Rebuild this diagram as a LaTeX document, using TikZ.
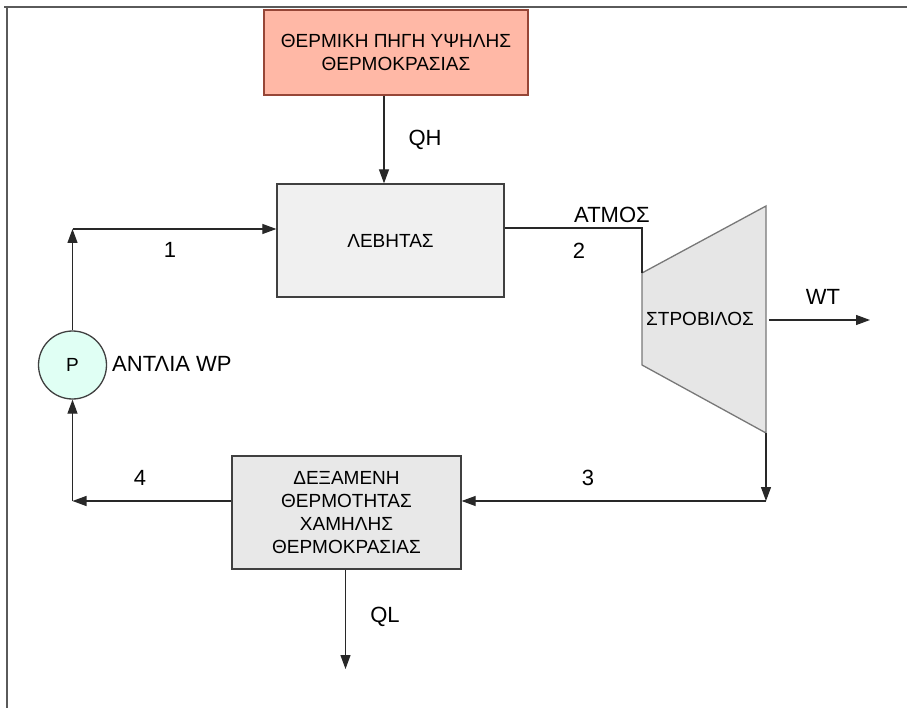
\documentclass[tikz,border=0pt]{standalone}
\usepackage{fontspec}
\setmainfont{Liberation Sans}
\usetikzlibrary{arrows.meta,calc}
\definecolor{heatfill}{RGB}{255,184,166}
\definecolor{heatdraw}{RGB}{150,70,55}
\definecolor{boilfill}{RGB}{240,240,240}
\definecolor{dexfill}{RGB}{232,232,232}
\definecolor{turbfill}{RGB}{230,230,230}
\definecolor{turbdraw}{RGB}{120,120,120}
\definecolor{pumpfill}{RGB}{224,255,244}
\definecolor{boxline}{RGB}{64,64,64}
\definecolor{linecol}{RGB}{40,40,40}
\definecolor{framecol}{RGB}{90,90,90}
\begin{document}
\begin{tikzpicture}[x=1pt,y=-1pt,
  blk/.style={draw=boxline, line width=1.3pt, fill=#1, inner sep=0pt, align=center,
    font=\fontsize{19}{23}\selectfont},
  txt/.style={inner sep=0pt, font=\fontsize{19}{23}\selectfont},
  lbl/.style={inner sep=0pt, font=\fontsize{22}{26}\selectfont},
  conn/.style={draw=linecol, line width=1.2pt},
  arr/.style={conn, -{Triangle[length=14pt,width=10pt]}},
  framestyle/.style={draw=framecol, line width=2pt}]
\useasboundingbox (0,0) rectangle (907,708);
\fill[white] (0,0) rectangle (907,708);
% frame
\draw[framestyle] (4,7) -- (907,7);
\draw[framestyle] (7,6) -- (7,708);
% nodes
\node[blk=heatfill, draw=heatdraw, minimum width=264pt, minimum height=85pt] (heat) at (396,52.5)
  {ΘΕΡΜΙΚΗ ΠΗΓΗ ΥΨΗΛΗΣ\\ΘΕΡΜΟΚΡΑΣΙΑΣ};
\node[blk=boilfill, minimum width=227pt, minimum height=113pt] (boiler) at (390.5,240.5) {ΛΕΒΗΤΑΣ};
\node[blk=dexfill, minimum width=229pt, minimum height=113pt] (dex) at (346.5,512.5)
  {ΔΕΞΑΜΕΝΗ\\ΘΕΡΜΟΤΗΤΑΣ\\ΧΑΜΗΛΗΣ\\ΘΕΡΜΟΚΡΑΣΙΑΣ};
\node[circle, draw=boxline, line width=1.3pt, fill=pumpfill, minimum size=68pt, inner sep=0pt,
  font=\fontsize{19}{23}\selectfont] (pump) at (72.5,365) {P};
% turbine
\coordinate (t1) at (642,273);
\coordinate (t2) at (766,206);
\coordinate (t3) at (766,433);
\coordinate (t4) at (642,365);
\draw[draw=turbdraw, line width=1.3pt, fill=turbfill] (t1) -- (t2) -- (t3) -- (t4) -- cycle;
\node[txt] (turb) at (700,319) {ΣΤΡΟΒΙΛΟΣ};
% connectors
\coordinate (c1) at (72.5,229);
\draw[arr] (pump.north) -- (c1);
\draw[arr] (c1) -- (c1 -| boiler.west);
\coordinate (c2) at (642,228);
\draw[conn] (c2 -| boiler.east) -- (c2) -- (t1);
\coordinate (c3) at (766,501);
\draw[arr] (t3) -- (c3);
\draw[arr] (c3) -- (c3 -| dex.east);
\coordinate (c4) at (72.5,501);
\draw[arr] (c4 -| dex.west) -- (c4);
\draw[arr] (c4) -- (pump.south);
\coordinate (qh) at (384,0);
\draw[arr] (heat.south -| qh) -- (boiler.north -| qh);
\coordinate (ql) at (345.5,669);
\draw[arr] (dex.south -| ql) -- (ql);
\coordinate (wt0) at (769,320);
\coordinate (wt1) at (870,320);
\draw[arr] (wt0) -- (wt1);
% labels
\node[lbl] (lqh) at (425,140) {QH};
\node[lbl] (l1) at (170,250) {1};
\node[lbl] (latm) at (612,215) {ΑΤΜΟΣ};
\node[lbl] (l2) at (579,251) {2};
\node[lbl] (lwt) at (823,297) {WT};
\node[lbl, anchor=west] (lpump) at (112,364) {ΑΝΤΛΙΑ WP};
\node[lbl] (l4) at (140,478) {4};
\node[lbl] (l3) at (588,478) {3};
\node[lbl] (lql) at (385,617) {QL};
\end{tikzpicture}
\end{document}
